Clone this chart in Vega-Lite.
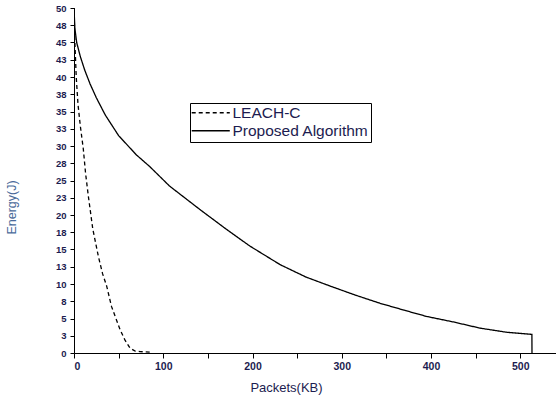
{
  "$schema": "https://vega.github.io/schema/vega-lite/v6.json",
  "width": 482,
  "height": 345,
  "autosize": {"type": "none"},
  "padding": {"left": 74, "top": 8, "right": 0, "bottom": 47},
  "background": "white",
  "config": {
    "view": {"stroke": null},
    "font": "Liberation Sans",
    "axis": {"grid": false, "domainColor": "black", "tickColor": "black", "labelColor": "#1c1c50", "labelFont": "Liberation Sans", "labelFontWeight": "bold", "titleFont": "Liberation Sans", "titleFontWeight": "normal"}
  },
  "data": {
    "values": [
      {"series": "LEACH-C", "x": 0, "y": 50},
      {"series": "LEACH-C", "x": 1, "y": 45},
      {"series": "LEACH-C", "x": 2.5, "y": 40},
      {"series": "LEACH-C", "x": 4.5, "y": 36},
      {"series": "LEACH-C", "x": 7, "y": 33},
      {"series": "LEACH-C", "x": 10.4, "y": 29.6},
      {"series": "LEACH-C", "x": 13, "y": 26},
      {"series": "LEACH-C", "x": 16, "y": 22.8},
      {"series": "LEACH-C", "x": 21, "y": 18},
      {"series": "LEACH-C", "x": 27.3, "y": 14},
      {"series": "LEACH-C", "x": 32, "y": 11.5},
      {"series": "LEACH-C", "x": 36.6, "y": 9.7},
      {"series": "LEACH-C", "x": 42, "y": 6.75},
      {"series": "LEACH-C", "x": 47, "y": 5},
      {"series": "LEACH-C", "x": 51.6, "y": 3.4},
      {"series": "LEACH-C", "x": 57, "y": 1.9},
      {"series": "LEACH-C", "x": 62.8, "y": 0.7},
      {"series": "LEACH-C", "x": 68, "y": 0.3},
      {"series": "LEACH-C", "x": 74, "y": 0.2},
      {"series": "LEACH-C", "x": 88, "y": 0.1},
      {"series": "Proposed Algorithm", "x": 0, "y": 50},
      {"series": "Proposed Algorithm", "x": 1, "y": 47},
      {"series": "Proposed Algorithm", "x": 3, "y": 45},
      {"series": "Proposed Algorithm", "x": 7, "y": 43},
      {"series": "Proposed Algorithm", "x": 12, "y": 41},
      {"series": "Proposed Algorithm", "x": 18, "y": 39},
      {"series": "Proposed Algorithm", "x": 25, "y": 37},
      {"series": "Proposed Algorithm", "x": 35, "y": 34.5},
      {"series": "Proposed Algorithm", "x": 50, "y": 31.5},
      {"series": "Proposed Algorithm", "x": 70, "y": 28.7},
      {"series": "Proposed Algorithm", "x": 85, "y": 27},
      {"series": "Proposed Algorithm", "x": 107, "y": 24.2},
      {"series": "Proposed Algorithm", "x": 141, "y": 20.8},
      {"series": "Proposed Algorithm", "x": 170, "y": 18},
      {"series": "Proposed Algorithm", "x": 197, "y": 15.5},
      {"series": "Proposed Algorithm", "x": 231, "y": 12.8},
      {"series": "Proposed Algorithm", "x": 260, "y": 11},
      {"series": "Proposed Algorithm", "x": 287, "y": 9.7},
      {"series": "Proposed Algorithm", "x": 315, "y": 8.4},
      {"series": "Proposed Algorithm", "x": 343, "y": 7.2},
      {"series": "Proposed Algorithm", "x": 370, "y": 6.2},
      {"series": "Proposed Algorithm", "x": 395, "y": 5.3},
      {"series": "Proposed Algorithm", "x": 425, "y": 4.5},
      {"series": "Proposed Algorithm", "x": 455, "y": 3.6},
      {"series": "Proposed Algorithm", "x": 485, "y": 3.0},
      {"series": "Proposed Algorithm", "x": 513, "y": 2.7},
      {"series": "Proposed Algorithm", "x": 513.1, "y": 0}
    ]
  },
  "mark": {"type": "line", "color": "black", "strokeWidth": 1.3, "clip": true},
  "encoding": {
    "x": {
      "field": "x", "type": "quantitative",
      "scale": {"domain": [0, 540], "nice": false, "zero": true},
      "axis": {
        "title": "Packets(KB)", "values": [0, 50, 100, 150, 200, 250, 300, 350, 400, 450, 500],
        "labelExpr": "datum.value % 100 === 0 ? datum.label : ''",
        "format": "d", "labelFontSize": 10.5, "tickSize": 5, "labelPadding": 3,
        "titleFontSize": 13, "titleColor": "#1c1c50", "titleX": 212, "titleY": 34, "titleBaseline": "middle"
      }
    },
    "y": {
      "field": "y", "type": "quantitative",
      "scale": {"domain": [0, 50], "nice": false},
      "axis": {
        "title": "Energy(J)", "values": [0, 2.5, 5, 7.5, 10, 12.5, 15, 17.5, 20, 22.5, 25, 27.5, 30, 32.5, 35, 37.5, 40, 42.5, 45, 47.5, 50],
        "format": ".0f", "labelFontSize": 9.5, "tickSize": 4, "labelPadding": 4,
        "titleFontSize": 12.5, "titleColor": "#4a6a9a", "titleX": -56, "titleY": 199
      }
    },
    "strokeDash": {
      "field": "series", "type": "nominal",
      "scale": {"domain": ["LEACH-C", "Proposed Algorithm"], "range": [[4, 3], [1, 0]]},
      "legend": {
        "title": null, "orient": "none", "legendX": 116, "legendY": 95,
        "strokeColor": "black", "padding": 2,
        "symbolType": "M-5,0H5", "symbolSize": 58, "symbolStrokeWidth": 1.3, "symbolStrokeColor": "black", "symbolFillColor": "transparent",
        "labelFontSize": 15.5, "labelColor": "#1c1c50", "labelFont": "Liberation Sans", "labelOffset": 14,
        "rowPadding": 1, "symbolOffset": 11
      }
    }
  }
}
